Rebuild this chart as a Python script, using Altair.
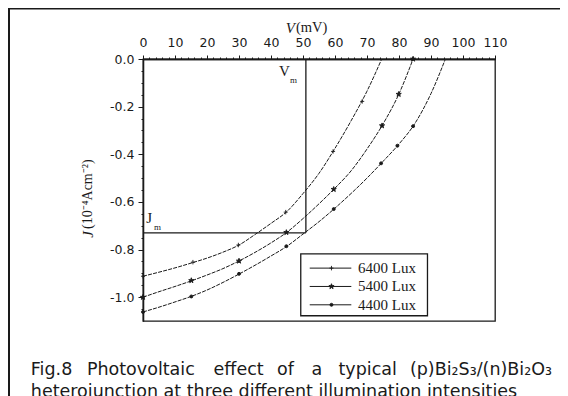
import altair as alt
import pandas as pd

# ---------------- data ----------------
SERIES = ["6400 Lux", "5400 Lux", "4400 Lux"]

V_6400 = [0, 5, 10, 15, 20, 25, 30, 35, 40, 45, 50, 55, 60, 65, 70, 74.6]
J_6400 = [-0.912, -0.895, -0.877, -0.857, -0.836, -0.811, -0.781, -0.737, -0.690,
          -0.640, -0.565, -0.480, -0.375, -0.260, -0.135, 0.0]

V_5400 = [0, 5, 10, 15, 20, 25, 30, 35, 40, 45, 50, 55, 60, 65, 70, 75, 80, 84.4]
J_5400 = [-1.0, -0.977, -0.955, -0.932, -0.907, -0.880, -0.848, -0.812, -0.772,
          -0.727, -0.670, -0.608, -0.542, -0.470, -0.378, -0.273, -0.146, 0.0]

V_4400 = [0, 5, 10, 15, 20, 25, 30, 35, 40, 45, 50, 55, 60, 65, 70, 75, 80, 85, 90, 94.5]
J_4400 = [-1.062, -1.042, -1.020, -0.997, -0.970, -0.938, -0.903, -0.866, -0.827,
          -0.786, -0.735, -0.683, -0.626, -0.565, -0.500, -0.430, -0.357, -0.270,
          -0.145, 0.0]

MV_6400 = [0, 15.6, 29.8, 44.6, 59.4, 68.5]
MJ_6400 = [-0.912, -0.853, -0.781, -0.643, -0.388, -0.178]
MV_5400 = [0, 15.1, 30.0, 44.8, 59.6, 74.7, 79.9, 84.4]
MJ_5400 = [-1.0, -0.930, -0.848, -0.728, -0.547, -0.280, -0.148, 0.0]
MV_4400 = [0, 15.1, 30.0, 44.8, 59.6, 74.4, 79.5, 84.4]
MJ_4400 = [-1.062, -0.997, -0.902, -0.786, -0.630, -0.438, -0.364, -0.282]

VM = 50.9
JM = -0.73

X_MAJOR = list(range(0, 111, 10))
X_MINOR = list(range(0, 111, 2))
Y_MAJOR = [0.0, -0.2, -0.4, -0.6, -0.8, -1.0]
Y_MINOR = [round(-0.05 * i, 2) for i in range(0, 22)]

CAPTION_1 = ["Fig.8", "Photovoltaic", "effect", "of", "a", "typical",
             "(p)Bi\u2082S\u2083/(n)Bi\u2082O\u2083"]
CAPTION_2 = "heterojunction at three different illumination intensities"

# ---------------- layout ----------------
W, H = 352, 262
PAD = {"left": 135, "top": 51, "right": 65, "bottom": 75}
SERIF = "Liberation Serif"
SANS = "DejaVu Sans"
INK = "#1a1a1a"

STAR = ("M0,-1L0.24,-0.31L0.95,-0.31L0.38,0.12L0.59,0.81L0,0.4L-0.59,0.81"
        "L-0.38,0.12L-0.95,-0.31L-0.24,-0.31Z")
PLUS = "M0,-1L0,1M-0.9,0L0.9,0"
SHAPES = [PLUS, STAR, "circle"]
SIZES = [20, 30, 9]

lines = pd.concat([
    pd.DataFrame({"V": V_6400, "J": J_6400, "s": SERIES[0]}),
    pd.DataFrame({"V": V_5400, "J": J_5400, "s": SERIES[1]}),
    pd.DataFrame({"V": V_4400, "J": J_4400, "s": SERIES[2]}),
])
marks = pd.concat([
    pd.DataFrame({"V": MV_6400, "J": MJ_6400, "s": SERIES[0], "sz": SIZES[0]}),
    pd.DataFrame({"V": MV_5400, "J": MJ_5400, "s": SERIES[1], "sz": SIZES[1]}),
    pd.DataFrame({"V": MV_4400, "J": MJ_4400, "s": SERIES[2], "sz": SIZES[2]}),
])

xs = alt.Scale(domain=[0, 110], nice=False, zero=False)
ys = alt.Scale(domain=[-1.1, 0], nice=False, zero=False)


def X(field):
    return alt.X(field, scale=xs, axis=None)


def Y(field):
    return alt.Y(field, scale=ys, axis=None)


AX_COMMON = dict(title=None, grid=False, labelOverlap=False, labelFlush=False,
                 labelBound=False, domainColor=INK, tickColor=INK, domainWidth=1.3,
                 tickWidth=1, labelColor=INK, labelFont=SANS, labelFontSize=12.5)

x_major = alt.Axis(orient="top", values=X_MAJOR, tickSize=4, labelPadding=6,
                   format="d", **AX_COMMON)
y_major = alt.Axis(orient="left", values=Y_MAJOR, tickSize=5, labelPadding=4,
                   labelExpr="datum.value === 0 ? '0.0' : '-' + format(abs(datum.value), '.1f')",
                   **AX_COMMON)
x_minor = alt.Axis(orient="top", values=X_MINOR, tickSize=2, labels=False, **AX_COMMON)
y_minor = alt.Axis(orient="left", values=Y_MINOR, tickSize=2, labels=False, **AX_COMMON)

curves = alt.Chart(lines).mark_line(
    interpolate="monotone", color=INK, strokeWidth=1.0, strokeDash=[4, 1.2]
).encode(
    x=alt.X("V:Q", scale=xs, axis=x_major),
    y=alt.Y("J:Q", scale=ys, axis=y_major),
    detail="s:N",
)

points = alt.Chart(marks).mark_point(
    filled=True, fill=INK, stroke=INK, strokeWidth=0.9, opacity=1
).encode(
    x=alt.X("V:Q", scale=xs, axis=x_minor),
    y=alt.Y("J:Q", scale=ys, axis=y_minor),
    shape=alt.Shape("s:N", scale=alt.Scale(domain=SERIES, range=SHAPES), legend=None),
    size=alt.Size("sz:Q", scale=None, legend=None),
)

# Vm / Jm construction lines
vm_df = pd.DataFrame({"V": [VM], "J": [0.0], "J2": [JM]})
jm_df = pd.DataFrame({"V": [0.0], "V2": [VM], "J": [JM]})
vm_rule = alt.Chart(vm_df).mark_rule(color=INK, strokeWidth=1.3).encode(
    x=X("V:Q"), y=Y("J:Q"), y2="J2:Q")
jm_rule = alt.Chart(jm_df).mark_rule(color=INK, strokeWidth=1.3).encode(
    x=X("V:Q"), x2="V2:Q", y=Y("J:Q"))


def dtext(txt, v, j, **kw):
    return alt.Chart(pd.DataFrame({"V": [v], "J": [j], "t": [txt]})).mark_text(**kw).encode(
        x=X("V:Q"), y=Y("J:Q"), text="t:N")


vm_lab = dtext("V", 45.9, -0.05, font=SERIF, fontSize=15, color=INK,
               align="right", baseline="middle")
vm_sub = dtext("m", 45.9, -0.09, font=SERIF, fontSize=9, color=INK,
               align="left", baseline="middle")
jm_lab = dtext("J", 1.0, -0.668, font=SERIF, fontSize=15, color=INK,
               align="left", baseline="middle")
jm_sub = dtext("m", 3.4, -0.706, font=SERIF, fontSize=9, color=INK,
               align="left", baseline="middle")

# ------------- legend (drawn in data units inside the plot) -------------
LEG_BOX = {"V": 49.3, "V2": 88.9, "J": -0.818, "J2": -1.078}
LEG_ROWS = [-0.878, -0.955, -1.032]
leg_box = alt.Chart(pd.DataFrame([LEG_BOX])).mark_rect(
    fill="white", stroke=INK, strokeWidth=1.3
).encode(x=X("V:Q"), x2="V2:Q", y=Y("J:Q"), y2="J2:Q")
leg_df = pd.DataFrame({"s": SERIES, "J": LEG_ROWS, "V": [52.1] * 3, "V2": [65.1] * 3,
                       "Vm": [58.9] * 3, "Vt": [67.2] * 3, "sz": SIZES})
leg_lines = alt.Chart(leg_df).mark_rule(color=INK, strokeWidth=1.0).encode(
    x=X("V:Q"), x2="V2:Q", y=Y("J:Q"))
leg_pts = alt.Chart(leg_df).mark_point(
    filled=True, fill=INK, stroke=INK, strokeWidth=0.9, opacity=1
).encode(
    x=X("Vm:Q"), y=Y("J:Q"),
    shape=alt.Shape("s:N", scale=alt.Scale(domain=SERIES, range=SHAPES), legend=None),
    size=alt.Size("sz:Q", scale=None, legend=None),
)
leg_txt = alt.Chart(leg_df).mark_text(
    font=SERIF, fontSize=15, color=INK, align="left", baseline="middle"
).encode(x=X("Vt:Q"), y=Y("J:Q"), text="s:N")


# ------------- axis titles (pixel offsets from the plot origin) -------------
def ptext(txt, x, y, **kw):
    return alt.Chart(pd.DataFrame({"t": [txt]})).mark_text(**kw).encode(
        x=alt.value(x), y=alt.value(y), text="t:N")


xt_v = ptext("V", 152, -31, font=SERIF, fontSize=15, fontStyle="italic",
             color=INK, align="right", baseline="middle")
xt_u = ptext("(mV)", 153, -31, font=SERIF, fontSize=14.5, color=INK,
             align="left", baseline="middle")
yt_j = ptext("J", -55, 172, font=SERIF, fontSize=15, fontStyle="italic",
             color=INK, align="right", baseline="middle", angle=270)
yt_u = ptext("(10\u207b\u2074Acm\u207b\u00b2)", -55, 170, font=SERIF, fontSize=14,
             color=INK, align="left", baseline="middle", angle=270)

# ------------- caption and frame -------------
CAP_X = [30.8, 86.9, 213.6, 277.0, 311.4, 338.5]
cap_layers = []
for word, px in zip(CAPTION_1[:-1], CAP_X):
    cap_layers.append(ptext(word, px - 143, 315.5, font=SANS, fontSize=17.5,
                            color=INK, align="left", baseline="alphabetic"))
cap_layers.append(ptext(CAPTION_1[-1], 552 - 143, 315.5, font=SANS, fontSize=17.5,
                        color=INK, align="right", baseline="alphabetic"))
cap_layers.append(ptext(CAPTION_2, 30.8 - 143, 337.5, font=SANS, fontSize=17.5,
                        color=INK, align="left", baseline="alphabetic"))

frame_left = alt.Chart(pd.DataFrame({"a": [0]})).mark_rule(color=INK, strokeWidth=2).encode(
    x=alt.value(-134), y=alt.value(-51), y2=alt.value(340))
frame_top = alt.Chart(pd.DataFrame({"a": [0]})).mark_rule(color=INK, strokeWidth=2).encode(
    x=alt.value(-135), x2=alt.value(420), y=alt.value(-50.5))

chart = alt.layer(
    curves, points, vm_rule, jm_rule, leg_box, leg_lines, leg_pts, leg_txt,
    vm_lab, vm_sub, jm_lab, jm_sub, xt_v, xt_u, yt_j, yt_u,
    frame_left, frame_top, *cap_layers,
).resolve_axis(
    x="independent", y="independent"
).properties(
    width=W, height=H, padding=PAD, background="white",
    autosize=alt.AutoSizeParams(type="none"),
).configure_view(stroke=INK, strokeWidth=1.3)

chart.save("out.html", embed_options={"renderer": "svg", "actions": False})
